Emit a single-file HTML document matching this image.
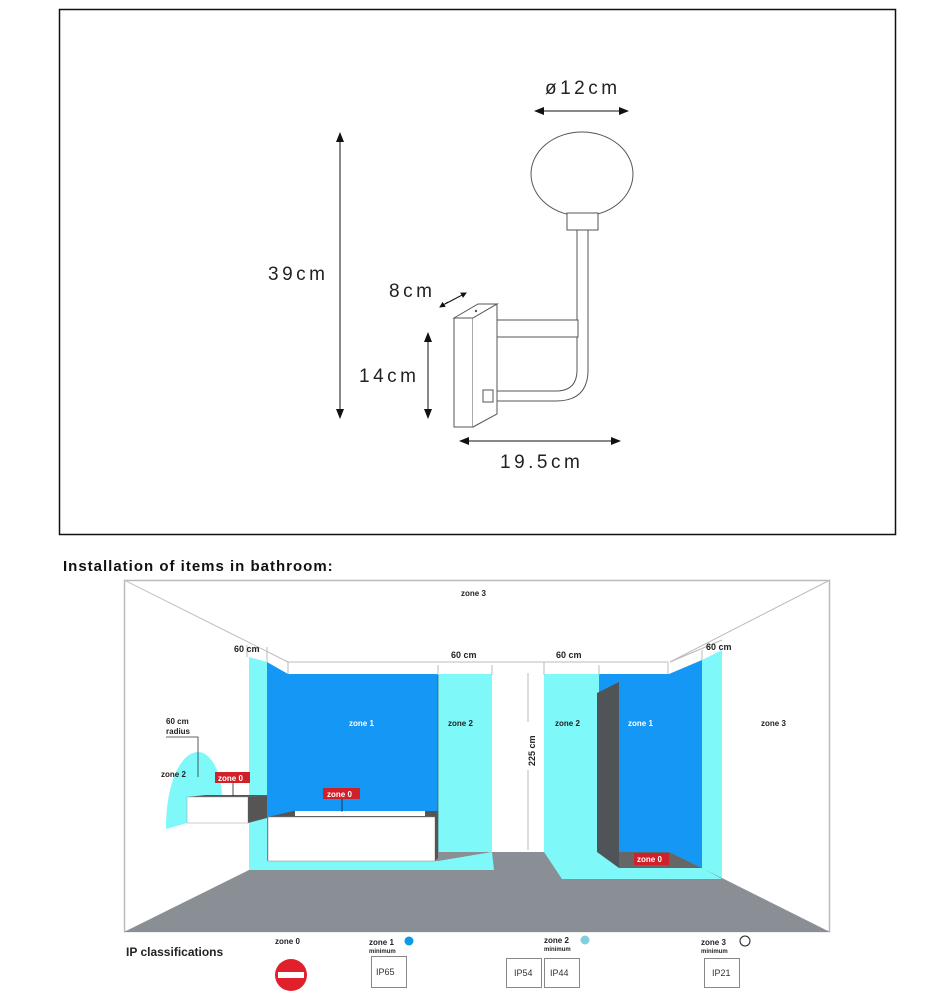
<!DOCTYPE html>
<html><head><meta charset="utf-8"><style>
html,body{margin:0;padding:0;background:#fff;}
svg{display:block;font-family:"Liberation Sans",sans-serif;}
</style></head><body>
<svg width="947" height="1000" viewBox="0 0 947 1000" xmlns="http://www.w3.org/2000/svg">
<defs>
<marker id="ar" markerWidth="10" markerHeight="10" refX="9" refY="5" orient="auto" markerUnits="userSpaceOnUse"><path d="M0,1 L10,5 L0,9 Z" fill="#111"/></marker>
<marker id="ar2" markerWidth="6" markerHeight="6" refX="5" refY="3" orient="auto" markerUnits="userSpaceOnUse"><path d="M0,0 L6,3 L0,6 Z" fill="#111"/></marker>
</defs>
<rect x="59.5" y="9.5" width="836" height="525" fill="#fff" stroke="#111" stroke-width="1.5"/>
<!-- lamp -->
<g fill="none" stroke="#555" stroke-width="1">
<ellipse cx="582" cy="174" rx="51" ry="42" fill="#fff"/>
<rect x="567" y="213" width="31" height="17" fill="#fff"/>
<path d="M577,230 L577,370 Q577,391 556,391 L493,391 M588,230 L588,370 Q588,401 556,401 L493,401"/>
<rect x="484" y="320" width="94" height="17" fill="#fff"/>
<path d="M454,318 L478,304 L497,304 L473,318 Z" fill="#fff"/>
<rect x="454" y="318" width="19" height="109" fill="#fff"/>
<path d="M473,318 L497,304 L497,414 L473,427" fill="#fff"/>
<rect x="483" y="390" width="10" height="12" fill="#fff"/>
</g>
<circle cx="476" cy="311" r="1.2" fill="#555"/>
<g stroke="#111" stroke-width="1">
<line x1="340" y1="145" x2="340" y2="133" marker-end="url(#ar)"/>
<line x1="340" y1="140" x2="340" y2="418" marker-end="url(#ar)"/>
<line x1="428" y1="345" x2="428" y2="333" marker-end="url(#ar)"/>
<line x1="428" y1="340" x2="428" y2="418" marker-end="url(#ar)"/>
<line x1="470" y1="441" x2="460" y2="441" marker-end="url(#ar)"/>
<line x1="465" y1="441" x2="620" y2="441" marker-end="url(#ar)"/>
<line x1="545" y1="111" x2="535" y2="111" marker-end="url(#ar)"/>
<line x1="540" y1="111" x2="628" y2="111" marker-end="url(#ar)"/>
<line x1="448" y1="302" x2="440" y2="307" marker-end="url(#ar2)"/>
<line x1="445" y1="304" x2="466" y2="293" marker-end="url(#ar2)"/>
</g>
<g fill="#222" font-size="19" letter-spacing="3.5">
<text x="268" y="280">39cm</text>
<text x="389" y="297">8cm</text>
<text x="359" y="382">14cm</text>
<text x="500" y="468">19.5cm</text>
<text x="545" y="94">ø12cm</text>
</g>
<text x="63" y="571" font-size="15" font-weight="bold" letter-spacing="1" fill="#111">Installation of items in bathroom:</text>
<!-- bathroom -->
<rect x="124.5" y="580.5" width="705" height="351" fill="#fff" stroke="#bbb" stroke-width="1.5"/>
<g stroke="#bbb" stroke-width="1" fill="none">
<line x1="124" y1="580" x2="288" y2="662"/>
<line x1="830" y1="580" x2="670" y2="662"/>
<line x1="288" y1="662" x2="668" y2="662"/>
<line x1="288" y1="662" x2="288" y2="674"/>
<line x1="668" y1="662" x2="668" y2="674"/>
</g>
<polygon points="124,932 249,870 288,852 670,852 722,878 830,932" fill="#8a8f95"/>
<!-- left -->
<polygon points="249,657 267,662 267,870 249,870" fill="#7ff8fa"/>
<polygon points="267,662 288,674 288,852 267,861" fill="#1598f5"/>
<rect x="288" y="674" width="150" height="178" fill="#1598f5"/>
<rect x="438" y="674" width="54" height="178" fill="#7ff8fa"/>
<polygon points="249,870 267,861 438,861 492,852 494,870" fill="#7ff8fa"/>
<line x1="438" y1="674" x2="438" y2="852" stroke="#444" stroke-width="0.6"/>
<!-- bath -->
<polygon points="268,817 293,811 438,811 435,817" fill="#555"/>
<rect x="295" y="811" width="130" height="5" fill="#fff"/>
<rect x="268" y="817" width="167" height="44" fill="#fff" stroke="#888" stroke-width="0.5"/>
<polygon points="435,817 438,811 438,858 435,861" fill="#555"/>
<!-- sink -->
<path d="M166,829 C166,780 182,752 198,752 C212,752 222,775 222,797 L187,797 L187,823 Z" fill="#7ff8fa"/>
<polygon points="187,797 206,795 267,795 248,797" fill="#555"/>
<rect x="187" y="797" width="61" height="26" fill="#fff" stroke="#999" stroke-width="0.5"/>
<polygon points="248,797 267,795 267,818 248,823" fill="#555"/>
<path d="M166,737 H198 V777" stroke="#333" stroke-width="0.8" fill="none"/>
<!-- right -->
<rect x="544" y="674" width="55" height="178" fill="#7ff8fa"/>
<rect x="599" y="674" width="70" height="178" fill="#1598f5"/>
<polygon points="669,674 702,660 702,868 669,852" fill="#1598f5"/>
<polygon points="702,660 722,650 722,878 702,868" fill="#7ff8fa"/>
<polygon points="544,852 599,852 619,868 702,868 722,879 562,879" fill="#7ff8fa"/>
<polygon points="619,852 669,852 702,868 619,868" fill="#666"/>
<polygon points="597,693 619,682 619,868 597,852" fill="#505358"/>
<g stroke="#bbb" stroke-width="1" fill="none">
<line x1="544" y1="662" x2="544" y2="674"/>
<line x1="670" y1="662" x2="722" y2="640"/>
<line x1="247" y1="645" x2="247" y2="657"/>
<line x1="267" y1="647" x2="267" y2="662"/>
<line x1="438" y1="665" x2="438" y2="675"/>
<line x1="492" y1="665" x2="492" y2="675"/>
<line x1="544" y1="665" x2="544" y2="675"/>
<line x1="599" y1="665" x2="599" y2="675"/>
<line x1="702" y1="650" x2="702" y2="660"/>
<line x1="528" y1="673" x2="528" y2="722"/>
<line x1="528" y1="770" x2="528" y2="850"/>
</g>
<g font-size="8" font-weight="bold" fill="#222">
<text x="461" y="596">zone 3</text>
<text x="234" y="652" font-size="9">60 cm</text>
<text x="451" y="658" font-size="9">60 cm</text>
<text x="556" y="658" font-size="9">60 cm</text>
<text x="706" y="650" font-size="9">60 cm</text>
<text x="166" y="724">60 cm</text>
<text x="166" y="734">radius</text>
<text x="161" y="777">zone 2</text>
<text x="349" y="726" fill="#fff">zone 1</text>
<text x="448" y="726">zone 2</text>
<text x="555" y="726">zone 2</text>
<text x="628" y="726" fill="#fff">zone 1</text>
<text x="761" y="726">zone 3</text>
<text transform="translate(535,766) rotate(-90)" font-size="9">225 cm</text>
</g>
<g font-size="8" font-weight="bold" fill="#fff">
<rect x="215" y="772" width="35" height="11" fill="#d0202a"/><text x="218" y="781">zone 0</text>
<rect x="323" y="788" width="37" height="11" fill="#d0202a"/><text x="327" y="797">zone 0</text>
<rect x="634" y="853" width="35" height="12" fill="#d0202a"/><text x="637" y="862">zone 0</text>
</g>
<line x1="233" y1="783" x2="233" y2="796" stroke="#222" stroke-width="0.8"/>
<line x1="342" y1="799" x2="342" y2="812" stroke="#222" stroke-width="0.8"/>
<!-- IP -->
<text x="126" y="956" font-size="12" font-weight="bold" fill="#222">IP classifications</text>
<g font-size="8" font-weight="bold" fill="#222">
<text x="275" y="944">zone 0</text>
<text x="369" y="945">zone 1</text><text x="369" y="953" font-size="6">minimum</text>
<text x="544" y="943">zone 2</text><text x="544" y="951" font-size="6">minimum</text>
<text x="701" y="945">zone 3</text><text x="701" y="953" font-size="6">minimum</text>
</g>
<circle cx="409" cy="941" r="4.5" fill="#0b9ae8"/>
<circle cx="585" cy="940" r="4.5" fill="#7fd0de"/>
<circle cx="745" cy="941" r="5" fill="#fff" stroke="#222" stroke-width="1"/>
<circle cx="291" cy="975" r="16" fill="#e0202a"/>
<rect x="278" y="972" width="26" height="6" fill="#fff"/>
<g fill="#fff" stroke="#888" stroke-width="1">
<rect x="371.5" y="956.5" width="35" height="31"/>
<rect x="506.5" y="958.5" width="35" height="29"/>
<rect x="544.5" y="958.5" width="35" height="29"/>
<rect x="704.5" y="958.5" width="35" height="29"/>
</g>
<g font-size="9" fill="#333">
<text x="376" y="975">IP65</text>
<text x="514" y="976">IP54</text>
<text x="550" y="976">IP44</text>
<text x="712" y="976">IP21</text>
</g>
</svg>
</body></html>
